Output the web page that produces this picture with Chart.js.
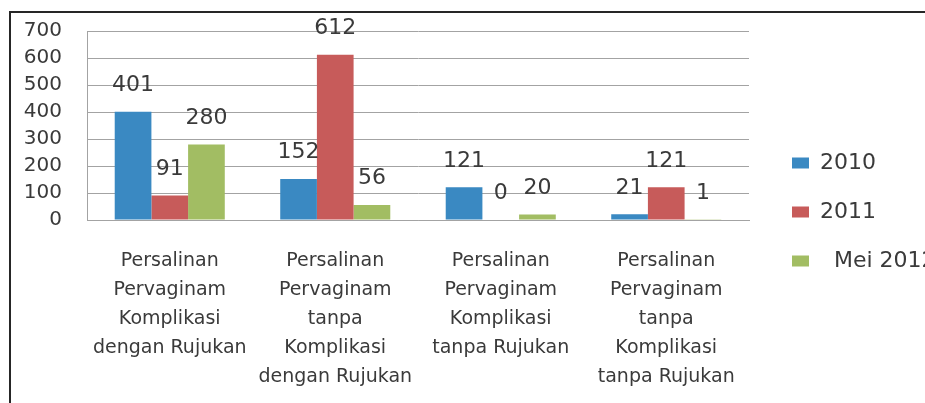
<!DOCTYPE html>
<html>
<head>
<meta charset="utf-8">
<script src="https://cdn.jsdelivr.net/npm/chart.js@4/dist/chart.umd.min.js"></script>
<style>
  html, body { margin: 0; padding: 0; background: #fff; overflow: hidden; }
  #wrap { position: relative; width: 925px; height: 403px; }
  #frame { position: absolute; left: 9px; top: 11px; width: 2000px; height: 2000px;
           border-left: 2px solid #262626; border-top: 2px solid #262626; pointer-events: none; }
  canvas { position: absolute; left: 0; top: 0; }
</style>
</head>
<body>
<div id="wrap">
  <canvas id="c" width="925" height="403"></canvas>
  <div id="frame"></div>
</div>
<script>
const categories = [
  ["Persalinan", "Pervaginam", "Komplikasi", "dengan Rujukan"],
  ["Persalinan", "Pervaginam", "tanpa", "Komplikasi", "dengan Rujukan"],
  ["Persalinan", "Pervaginam", "Komplikasi", "tanpa Rujukan"],
  ["Persalinan", "Pervaginam", "tanpa", "Komplikasi", "tanpa Rujukan"]
];
const seriesNames = ["2010", "2011", "  Mei 2012"];
const values2010 = [401, 152, 121, 21];
const values2011 = [91, 612, 0, 121];
const valuesMei2012 = [280, 56, 20, 1];
const yTicks = [0, 100, 200, 300, 400, 500, 600, 700];

const colors = ["#3a89c2", "#c75b5a", "#a2bd63"];
const textColor = "#3a3a3a";
const gridColor = "#a3a3a3";

Chart.defaults.font.family = "'DejaVu Sans', sans-serif";

const valueLabels = {
  id: "valueLabels",
  afterDatasetsDraw(chart) {
    const ctx = chart.ctx;
    ctx.save();
    ctx.font = "22px 'DejaVu Sans', sans-serif";
    ctx.fillStyle = textColor;
    ctx.textAlign = "center";
    ctx.textBaseline = "middle";
    chart.data.datasets.forEach((ds, di) => {
      const meta = chart.getDatasetMeta(di);
      meta.data.forEach((el, i) => {
        ctx.fillText(String(ds.data[i]), el.x, el.y - 26.5);
      });
    });
    ctx.restore();
  }
};

new Chart(document.getElementById("c"), {
  type: "bar",
  data: {
    labels: categories,
    datasets: [
      { label: seriesNames[0], data: values2010, backgroundColor: colors[0] },
      { label: seriesNames[1], data: values2011, backgroundColor: colors[1] },
      { label: seriesNames[2], data: valuesMei2012, backgroundColor: colors[2] }
    ]
  },
  options: {
    responsive: false,
    animation: false,
    devicePixelRatio: 1,
    layout: { padding: { top: 31, left: 0, right: 0, bottom: 10 } },
    datasets: { bar: { categoryPercentage: 0.665, barPercentage: 1.0 } },
    plugins: {
      legend: {
        position: "right",
        maxWidth: 160,
        labels: {
          boxWidth: 17,
          boxHeight: 11,
          padding: 27,
          color: textColor,
          font: { size: 22 }
        }
      },
      tooltip: { enabled: false }
    },
    scales: {
      x: {
        grid: { display: false, drawTicks: false },
        border: { display: true, color: gridColor, width: 1 },
        ticks: {
          autoSkip: false,
          maxRotation: 0,
          minRotation: 0,
          padding: 27,
          color: textColor,
          font: { size: 19, lineHeight: 1.526 }
        },
        afterFit(s) { s.height = 173; }
      },
      y: {
        min: 0,
        max: 700,
        afterBuildTicks(s) { s.ticks = yTicks.map(v => ({ value: v })); },
        grid: { color: gridColor, lineWidth: 1, drawTicks: true, tickLength: 22, tickColor: "rgba(0,0,0,0)" },
        border: { display: true, color: gridColor, width: 1 },
        ticks: { autoSkip: false, padding: 3, color: textColor, font: { size: 20 } },
        afterFit(s) { s.width = 87; }
      },
      gap: {
        position: "right",
        display: true,
        grid: { display: false, drawTicks: false },
        border: { display: false },
        ticks: { display: false },
        afterFit(s) { s.width = 16; }
      }
    }
  },
  plugins: [valueLabels]
});
</script>
</body>
</html>
